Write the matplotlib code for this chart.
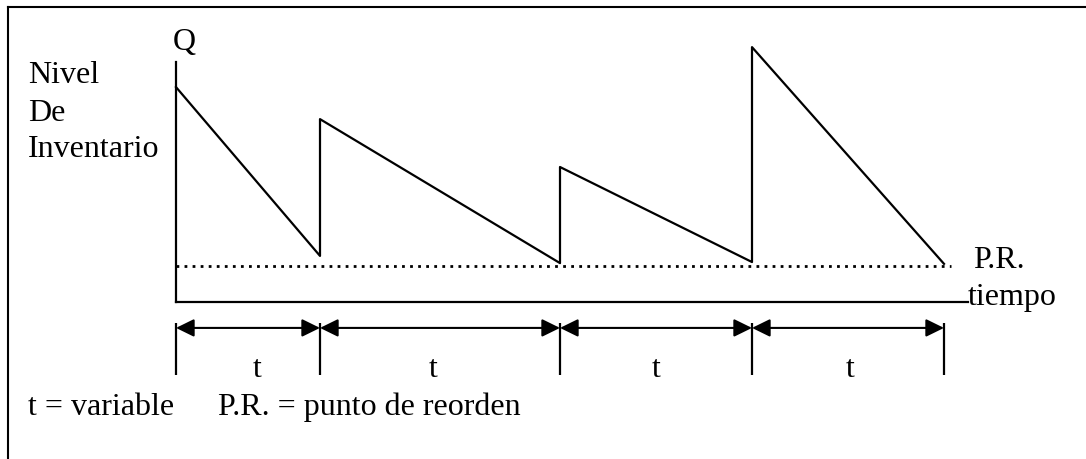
import matplotlib.pyplot as plt
from matplotlib.lines import Line2D

plt.rcParams['font.family'] = ['Liberation Serif', 'DejaVu Serif']

# inventory model: one sawtooth per cycle
cycle_lengths = [3, 5, 4, 4]
peak_levels = [59.7, 50.8, 37.5, 70.8]
low_levels = [12.8, 10.8, 11.1, 10.6]
reorder_point = 10
t_labels = ["t", "t", "t", "t"]
t_label_pos = [1.7, 5.35, 10.0, 14.05]

# page layout in pixels; origin of the diagram sits at (X0, Y0)
W, H = 1086, 459
X0, Y0 = 176, 302
SX, SY = 48.0, 3.6   # px per time unit, px per level unit
FS = 23

fig = plt.figure(figsize=(W / 100, H / 100), dpi=100)
ax = fig.add_axes([0, 0, 1, 1])
ax.set_xlim(-X0 / SX, (W - X0) / SX)
ax.set_ylim(-(H - Y0) / SY, Y0 / SY)
ax.axis("off")

bounds = [0]
for c in cycle_lengths:
    bounds.append(bounds[-1] + c)

xs, ys = [], []
for i in range(len(cycle_lengths)):
    xs += [bounds[i], bounds[i + 1]]
    ys += [peak_levels[i], low_levels[i]]
ax.plot(xs, ys, color="black", lw=1.6)

# axes
ax.plot([0, 0], [66.7, 0], color="black", lw=1.6)
ax.plot([0, 16.5], [0, 0], color="black", lw=1.6)

# reorder point
ax.plot([0, 16.15], [reorder_point, reorder_point], color="black", lw=2,
        ls=(0, (1, 1.9)))

# cycle dimension arrows
arrow_y = -7.2
ax.vlines(bounds, -20.3, -5.8, color="black", lw=1.6)
for i in range(len(cycle_lengths)):
    ax.annotate("", xy=(bounds[i + 1], arrow_y), xytext=(bounds[i], arrow_y),
                arrowprops=dict(arrowstyle="<|-|>,head_length=11,head_width=5.4",
                                mutation_scale=1, color="black", lw=1.5,
                                shrinkA=0, shrinkB=0))
for lab, pos in zip(t_labels, t_label_pos):
    ax.text(pos, -(377 - Y0) / SY, lab, ha="center", va="baseline", fontsize=FS)


def put(s, x_px, y_px):
    ax.text(x_px / W, 1 - y_px / H, s, transform=ax.transAxes,
            fontsize=FS, va="baseline")


put("Q", 173, 50)
put("Nivel", 28, 83)
put("De", 28, 121)
put("Inventario", 28, 157)
put("P.R.", 973, 268)
put("tiempo", 968, 305)
put("t = variable", 28, 415)
put("P.R. = punto de reorden", 218, 415)

# page frame (top and left edges only)
fig.add_artist(Line2D([8 / W, 1], [1 - 7 / H, 1 - 7 / H],
                      transform=fig.transFigure, color="black", lw=1.5))
fig.add_artist(Line2D([8 / W, 8 / W], [0, 1 - 7 / H],
                      transform=fig.transFigure, color="black", lw=1.5))

fig.savefig("out.png", dpi=100)
